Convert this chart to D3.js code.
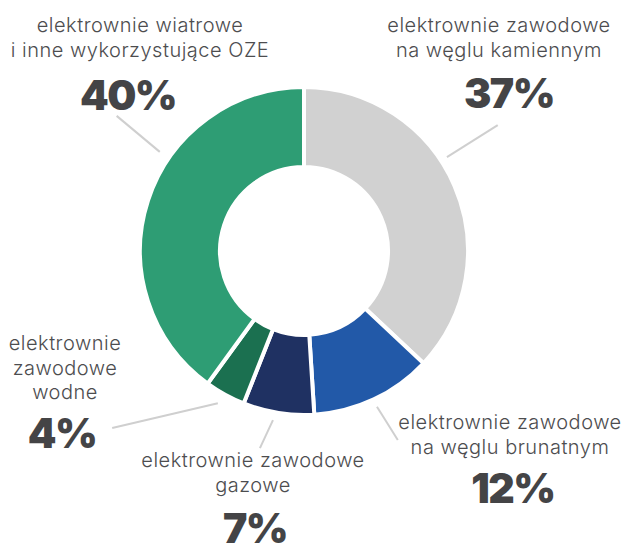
<!DOCTYPE html>
<html>
<head>
<meta charset="utf-8">
<script src="https://cdn.jsdelivr.net/npm/d3@7"></script>
<style>
    body { margin: 0; background: #fff; }
    .lbl { font-family: Inter, "Open Sans", sans-serif; font-weight: 300; fill: #4d4d4f; letter-spacing: 0.5px; }
    .pct { font-family: Inter, "Open Sans", sans-serif; font-weight: 900; fill: #444446; letter-spacing: -1.5px; }
</style>
</head>
<body>
<div id="donut"></div>
<script>
// data
var categories = ["kamienny", "brunatny", "gazowe", "wodne", "oze"];
var labels = [
    ["elektrownie zawodowe", "na węglu kamiennym"],
    ["elektrownie zawodowe", "na węglu brunatnym"],
    ["elektrownie zawodowe", "gazowe"],
    ["elektrownie", "zawodowe", "wodne"],
    ["elektrownie wiatrowe", "i inne wykorzystujące OZE"]
];
var values = [37, 12, 7, 4, 40];
var colors = ["#d1d1d1", "#2259a8", "#1f3162", "#1b7050", "#2e9d74"];

// label placement (text x, first baseline, percent x, percent baseline)
var layout = [
    { x: 499, y: 32, px: 509, py: 108, line: [[56.7, 171], [57.0, 231]] },
    { x: 510, y: 429, px: 513, py: 503, line: [[154.9, 172], [153.6, 211]] },
    { x: 253, y: 467, px: 255, py: 543, line: [[190.4, 172], [192.6, 202]] },
    { x: 65, y: 350, px: 62, py: 448, line: [[209.5, 175], [227.3, 261]] },
    { x: 140, y: 32, px: 128, py: 110, line: [[-55.5, 175], [-54.2, 231]] }
];

var width = 623, height = 543;
var cx = 304, cy = 251;
var outerR = 164, innerR = 84;

var svg = d3.select("#donut")
    .append("svg")
    .attr("width", width)
    .attr("height", height);

var g = svg.append("g")
    .attr("transform", "translate(" + cx + "," + cy + ")");

var pie = d3.pie().sort(null).value(function (d) { return d; });
var arc = d3.arc().innerRadius(innerR).outerRadius(outerR);

g.selectAll("path")
    .data(pie(values))
    .enter()
    .append("path")
    .attr("d", arc)
    .attr("fill", function (d, i) { return colors[i]; })
    .attr("stroke", "#fff")
    .attr("stroke-width", 4)
    .attr("stroke-linejoin", "miter");

// leader lines
var rad = Math.PI / 180;
g.selectAll("line.leader")
    .data(layout)
    .enter()
    .append("line")
    .attr("class", "leader")
    .attr("x1", function (d) { return d3.pointRadial(d.line[0][0] * rad, d.line[0][1])[0]; })
    .attr("y1", function (d) { return d3.pointRadial(d.line[0][0] * rad, d.line[0][1])[1]; })
    .attr("x2", function (d) { return d3.pointRadial(d.line[1][0] * rad, d.line[1][1])[0]; })
    .attr("y2", function (d) { return d3.pointRadial(d.line[1][0] * rad, d.line[1][1])[1]; })
    .attr("stroke", "#cfcfcf")
    .attr("stroke-width", 2);

// category labels
labels.forEach(function (lines, i) {
    var t = svg.append("text")
        .attr("class", "lbl")
        .attr("text-anchor", "middle")
        .attr("font-size", 20);
    lines.forEach(function (s, j) {
        t.append("tspan")
            .attr("x", layout[i].x)
            .attr("y", layout[i].y + j * 24.5)
            .text(s);
    });
    svg.append("text")
        .attr("class", "pct")
        .attr("text-anchor", "middle")
        .attr("font-size", 41)
        .attr("x", layout[i].px)
        .attr("y", layout[i].py)
        .text(values[i] + "%");
});
</script>
</body>
</html>
